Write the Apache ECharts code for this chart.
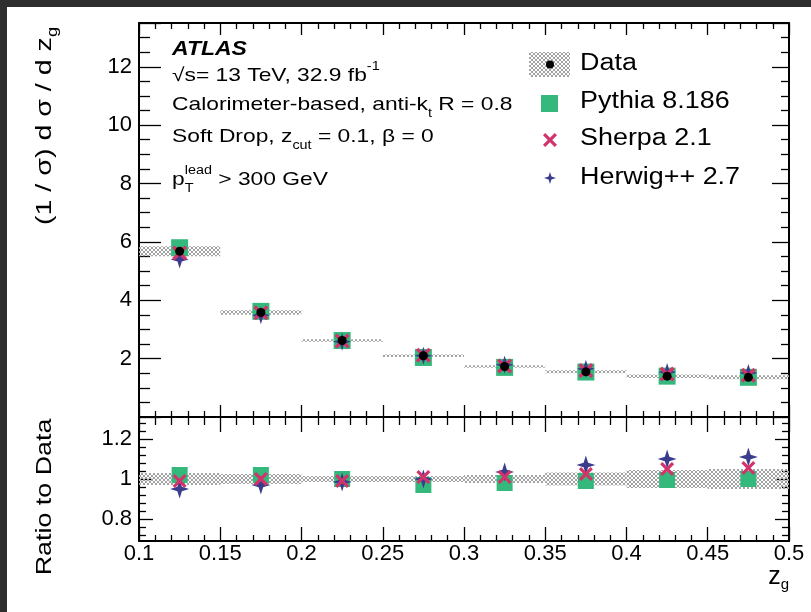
<!DOCTYPE html>
<html>
<head>
<meta charset="utf-8">
<title>ATLAS zg</title>
<script src="https://cdn.jsdelivr.net/npm/echarts@6/dist/echarts.min.js"></script>
<style>
  html, body { margin: 0; padding: 0; background: #fff; }
  #chart { width: 811px; height: 612px; }
</style>
</head>
<body>
<div id="chart"></div>
<script>
// bins in z_g
var binLo  = [0.10, 0.15, 0.20, 0.25, 0.30, 0.35, 0.40, 0.45];
var binHi  = [0.15, 0.20, 0.25, 0.30, 0.35, 0.40, 0.45, 0.50];
var binMid = [0.125, 0.175, 0.225, 0.275, 0.325, 0.375, 0.425, 0.475];

// upper panel: (1/sigma) dsigma/dzg
var dataVal   = [5.68, 3.58, 2.62, 2.10, 1.73, 1.55, 1.40, 1.36];
var dataErr   = [0.17, 0.08, 0.04, 0.04, 0.04, 0.05, 0.06, 0.07];
var pythiaVal = [5.80, 3.62, 2.62, 2.04, 1.70, 1.54, 1.40, 1.36];
var sherpaVal = [5.62, 3.57, 2.60, 2.12, 1.75, 1.59, 1.47, 1.43];
var herwigVal = [5.40, 3.49, 2.58, 2.10, 1.79, 1.65, 1.54, 1.51];

// lower panel: ratio to data
var ratioErr    = [0.030, 0.025, 0.015, 0.015, 0.020, 0.033, 0.045, 0.050];
var pythiaRatio = [1.02, 1.02, 1.00, 0.97, 0.98, 0.99, 0.995, 1.00];
var sherpaRatio = [0.99, 1.00, 0.99, 1.01, 1.01, 1.025, 1.05, 1.055];
var herwigRatio = [0.95, 0.97, 0.985, 1.00, 1.035, 1.07, 1.10, 1.11];

// ratio axis ticks
var ratioTicks = [0.8, 1, 1.2];
var ratioMinor = [0.72, 0.76, 0.84, 0.88, 0.92, 0.96, 1.04, 1.08, 1.12, 1.16, 1.24, 1.28];

var FONT = 'Liberation Sans, Arial, Helvetica, sans-serif';
var C_PY = '#35b87b', C_SH = '#d3336b', C_HW = '#3b3d8c';
var X_PTS = [[1.6,0],[5,3.4],[8.4,0],[10,1.6],[6.6,5],[10,8.4],[8.4,10],[5,6.6],[1.6,10],[0,8.4],[3.4,5],[0,1.6]];
var STAR_PTS = [[5,0],[6.2,3.8],[10,5],[6.2,6.2],[5,10],[3.8,6.2],[0,5],[3.8,3.8]];
function toPath(pts) {
  return 'path://' + pts.map(function (p, i) { return (i ? 'L' : 'M') + p[0] + ',' + p[1]; }).join(' ') + ' Z';
}
function placePts(pts, cx, cy, size) {
  return pts.map(function (p) { return [cx + (p[0] - 5) * size / 10, cy + (p[1] - 5) * size / 10]; });
}
var X_SHAPE = toPath(X_PTS);
var STAR_SHAPE = toPath(STAR_PTS);

// grey cross hatch used for the data uncertainty
function hatchCanvas() {
  var c = document.createElement('canvas');
  c.width = 4; c.height = 4;
  var g = c.getContext('2d');
  g.strokeStyle = '#a2a2a2';
  g.lineWidth = 1;
  g.beginPath();
  g.moveTo(0, 0); g.lineTo(4, 4);
  g.moveTo(4, 0); g.lineTo(0, 4);
  g.stroke();
  return c;
}
var hatch = { image: hatchCanvas(), repeat: 'repeat' };

function zip2(xs, ys) {
  return xs.map(function (x, i) { return [x, ys[i]]; });
}

var bandUpper = binLo.map(function (lo, i) { return [lo, binHi[i], dataVal[i], dataErr[i]]; });
var bandRatio = binLo.map(function (lo, i) { return [lo, binHi[i], 1, ratioErr[i]]; });

function bandItem(params, api) {
  var p1 = api.coord([api.value(0), api.value(2) + api.value(3)]);
  var p2 = api.coord([api.value(1), api.value(2) - api.value(3)]);
  return {
    type: 'rect',
    shape: { x: p1[0], y: p1[1], width: p2[0] - p1[0], height: Math.max(p2[1] - p1[1], 2) },
    style: { fill: hatch }
  };
}

var chart = echarts.init(document.getElementById('chart'));

var tickStyle = { color: '#000', width: 1.3 };
function xAx(grid, pos, labels, majLen, minLen) {
  return {
    type: 'value', gridIndex: grid, position: pos,
    min: 0.1, max: 0.5, interval: 0.05,
    axisLine: { show: true, onZero: false, lineStyle: { color: '#000', width: 2 } },
    axisTick: { show: true, inside: true, length: majLen, lineStyle: tickStyle },
    minorTick: { show: true, splitNumber: 5, length: minLen, lineStyle: tickStyle },
    splitLine: { show: false },
    axisLabel: { show: labels, color: '#000', fontSize: 22, fontFamily: FONT, margin: 2 }
  };
}
function ratioAx(pos, ticks, len, labels, line) {
  return {
    type: 'value', gridIndex: 1, position: pos,
    min: 0.69, max: 1.31,
    axisLine: { show: line, onZero: false, lineStyle: { color: '#000', width: 2 } },
    axisTick: { show: true, inside: true, length: len, customValues: ticks, lineStyle: tickStyle },
    splitLine: { show: false },
    axisLabel: labels ? { color: '#000', fontSize: 22, fontFamily: FONT, margin: 7, customValues: ticks } : { show: false }
  };
}

var subRich = { fontSize: 12, fontFamily: FONT, lineHeight: 10, verticalAlign: 'bottom' };
var supRich = { fontSize: 12, fontFamily: FONT, lineHeight: 10, verticalAlign: 'top' };

function note(text, y, extra) {
  var style = { text: text, fill: '#000', verticalAlign: 'middle', font: '19px ' + FONT, lineHeight: 30,
    rich: { sub: subRich, sup: supRich,
      subT: { fontSize: 12, fontFamily: FONT, lineHeight: 10, verticalAlign: 'bottom', width: 0 } } };
  return { type: 'text', x: 172, y: y, scaleX: 1.2, z: 50, style: style };
}
function legText(text, y) {
  return { type: 'text', x: 580, y: y, scaleX: 1.17, z: 50,
    style: { text: text, fill: '#000', verticalAlign: 'middle', font: '23px ' + FONT } };
}

var option = {
  backgroundColor: '#fff',
  animation: false,
  grid: [
    { left: 139, top: 23, width: 650, height: 394 },
    { left: 139, top: 417, width: 650, height: 124 }
  ],
  xAxis: [
    xAx(0, 'bottom', false, 12, 6),
    xAx(0, 'top', false, 12, 6),
    xAx(1, 'bottom', true, 14, 6),
    xAx(1, 'top', false, 15, 8)
  ],
  yAxis: [
    {
      type: 'value', gridIndex: 0, position: 'left',
      min: 0, max: 13.5, interval: 2,
      axisLine: { show: true, onZero: false, lineStyle: { color: '#000', width: 2 } },
      axisTick: { show: true, inside: true, length: 22, lineStyle: tickStyle },
      minorTick: { show: true, splitNumber: 4, length: 11, lineStyle: tickStyle },
      splitLine: { show: false },
      axisLabel: {
        color: '#000', fontSize: 22, fontFamily: FONT, margin: 7,
        showMinLabel: false, showMaxLabel: false,
        formatter: function (v) { return v === 0 ? '' : String(v); }
      }
    },
    {
      type: 'value', gridIndex: 0, position: 'right',
      min: 0, max: 13.5, interval: 2,
      axisLine: { show: true, onZero: false, lineStyle: { color: '#000', width: 2 } },
      axisTick: { show: true, inside: true, length: 17, lineStyle: tickStyle },
      minorTick: { show: true, splitNumber: 4, length: 8, lineStyle: tickStyle },
      splitLine: { show: false },
      axisLabel: { show: false }
    },
    ratioAx('left', ratioTicks, 14, true, true),
    ratioAx('right', ratioTicks, 14, false, true),
    ratioAx('left', ratioMinor, 7, false, false),
    ratioAx('right', ratioMinor, 7, false, false)
  ],
  series: [
    // upper panel
    { type: 'custom', xAxisIndex: 0, yAxisIndex: 0, renderItem: bandItem, data: bandUpper,
      encode: { x: [0, 1], y: 2 }, z: 1, silent: true },
    { name: 'Pythia 8.186', type: 'scatter', xAxisIndex: 0, yAxisIndex: 0, symbol: 'rect', symbolSize: 17,
      itemStyle: { color: C_PY, opacity: 1 }, data: zip2(binMid, pythiaVal), z: 3 },
    { name: 'Herwig++ 2.7', type: 'scatter', xAxisIndex: 0, yAxisIndex: 0, symbol: STAR_SHAPE, symbolSize: 18,
      itemStyle: { color: C_HW, opacity: 1 }, data: zip2(binMid, herwigVal), z: 4 },
    { name: 'Sherpa 2.1', type: 'scatter', xAxisIndex: 0, yAxisIndex: 0, symbol: X_SHAPE, symbolSize: 15,
      itemStyle: { color: C_SH, opacity: 1 }, data: zip2(binMid, sherpaVal), z: 5 },
    { name: 'Data', type: 'scatter', xAxisIndex: 0, yAxisIndex: 0, symbol: 'circle', symbolSize: 9,
      itemStyle: { color: '#000', opacity: 1 }, data: zip2(binMid, dataVal), z: 6 },
    // ratio panel
    { type: 'custom', xAxisIndex: 2, yAxisIndex: 2, renderItem: bandItem, data: bandRatio,
      encode: { x: [0, 1], y: 2 }, z: 1, silent: true },
    { type: 'scatter', xAxisIndex: 2, yAxisIndex: 2, symbol: 'rect', symbolSize: 16,
      itemStyle: { color: C_PY, opacity: 1 }, data: zip2(binMid, pythiaRatio), z: 3 },
    { type: 'scatter', xAxisIndex: 2, yAxisIndex: 2, symbol: STAR_SHAPE, symbolSize: 19,
      itemStyle: { color: C_HW, opacity: 1 }, data: zip2(binMid, herwigRatio), z: 4 },
    { type: 'scatter', xAxisIndex: 2, yAxisIndex: 2, symbol: X_SHAPE, symbolSize: 14,
      itemStyle: { color: C_SH, opacity: 1 }, data: zip2(binMid, sherpaRatio), z: 5 }
  ],
  graphic: [
    // dark frame of the screenshot
    { type: 'rect', left: 0, top: 0, shape: { width: 7, height: 612 }, style: { fill: '#2e2e2e' }, z: 100 },
    { type: 'rect', left: 0, top: 0, shape: { width: 811, height: 7 }, style: { fill: '#2e2e2e' }, z: 100 },

    // axis titles
    { type: 'text', x: 45, y: 126, rotation: Math.PI / 2, scaleX: 1.3, z: 50,
      style: { text: '(1 / σ) d σ / d z{sub|g}', fill: '#000', align: 'center', verticalAlign: 'middle',
        font: '22px ' + FONT, lineHeight: 30,
        rich: { sub: { fontSize: 14, fontFamily: FONT, lineHeight: 12, verticalAlign: 'bottom' } } } },
    { type: 'text', x: 45, y: 497, rotation: Math.PI / 2, scaleX: 1.22, z: 50,
      style: { text: 'Ratio to Data', fill: '#000', align: 'center', verticalAlign: 'middle', font: '22px ' + FONT } },
    { type: 'text', x: 789, y: 577, z: 50,
      style: { text: 'z{sub|g}', fill: '#000', align: 'right', verticalAlign: 'middle', font: '25px ' + FONT, lineHeight: 30,
        rich: { sub: { fontSize: 15, fontFamily: FONT, lineHeight: 12, verticalAlign: 'bottom' } } } },

    // ATLAS label block
    { type: 'text', x: 172, y: 49, scaleX: 1.15, z: 50,
      style: { text: 'ATLAS', fill: '#000', verticalAlign: 'middle', font: 'italic bold 20px ' + FONT } },
    note('√s= 13 TeV, 32.9 fb{sup|-1}', 76),
    note('Calorimeter-based, anti-k{sub|t} R = 0.8', 105),
    note('Soft Drop, z{sub|cut} = 0.1, β = 0', 137),
    note('p{subT|T}{sup|lead} > 300 GeV', 180),

    // legend
    { type: 'rect', shape: { x: 529, y: 52, width: 41, height: 25 }, style: { fill: hatch }, z: 50 },
    { type: 'circle', shape: { cx: 550, cy: 64.5, r: 4 }, style: { fill: '#000' }, z: 51 },
    legText('Data', 64),
    { type: 'rect', shape: { x: 541, y: 95, width: 17, height: 17 }, style: { fill: C_PY }, z: 50 },
    legText('Pythia 8.186', 102),
    { type: 'polygon', shape: { points: placePts(X_PTS, 550, 140, 14) }, style: { fill: C_SH }, z: 50 },
    legText('Sherpa 2.1', 139),
    { type: 'polygon', shape: { points: placePts(STAR_PTS, 550, 178, 12) }, style: { fill: C_HW }, z: 50 },
    legText('Herwig++ 2.7', 178)
  ]
};

chart.setOption(option);
</script>
</body>
</html>
